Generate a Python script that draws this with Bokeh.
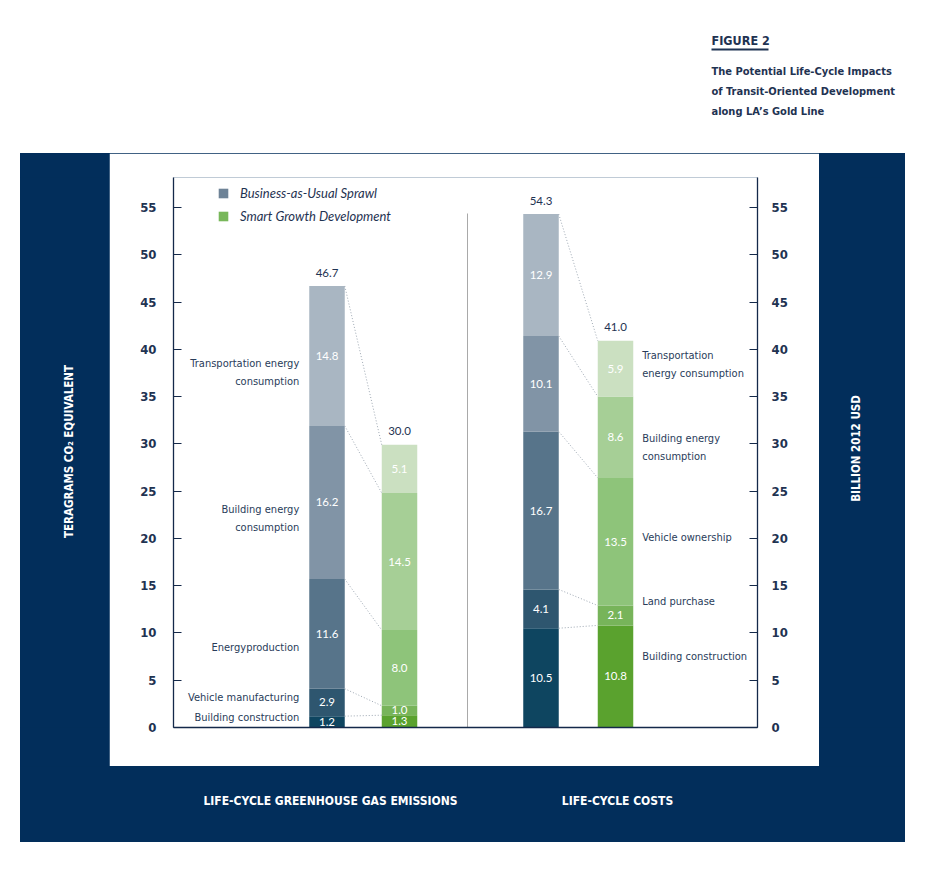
import numpy as np
from bokeh.plotting import figure
from bokeh.layouts import column, row
from bokeh.models import (Range1d, LinearAxis, FixedTicker, Legend, LegendItem,
                          ColumnDataSource, Spacer)
from bokeh.core.properties import value
from bokeh.embed import file_html
from bokeh.resources import INLINE

# ---------------- data ----------------
ghg_categories = ["Building construction", "Vehicle manufacturing", "Energyproduction",
                  "Building energy\nconsumption", "Transportation energy\nconsumption"]
cost_categories = ["Building construction", "Land purchase", "Vehicle ownership",
                   "Building energy\nconsumption", "Transportation\nenergy consumption"]
ghg_bau = [1.2, 2.9, 11.6, 16.2, 14.8]
ghg_smart = [1.3, 1.0, 8.0, 14.5, 5.1]
cost_bau = [10.5, 4.1, 16.7, 10.1, 12.9]
cost_smart = [10.8, 2.1, 13.5, 8.6, 5.9]
ghg_totals = [46.7, 30.0]
cost_totals = [54.3, 41.0]
series_names = ["Business-as-Usual Sprawl", "Smart Growth Development"]
panel_titles = ["LIFE-CYCLE GREENHOUSE GAS EMISSIONS", "LIFE-CYCLE COSTS"]
y_ticks = [0, 5, 10, 15, 20, 25, 30, 35, 40, 45, 50, 55]
left_axis_title = "TERAGRAMS CO\u2082 EQUIVALENT"
right_axis_title = "BILLION 2012 USD"
fig_label = "FIGURE 2"
fig_title = ["The Potential Life-Cycle Impacts", "of Transit-Oriented Development",
             "along LA\u2019s Gold Line"]

# ---------------- styles ----------------
NAVY = "#022e5b"
INK = "#1f3352"
BAU_COLORS = ["#0e4560", "#2e566f", "#57748a", "#8194a6", "#a9b6c2"]
SG_COLORS = ["#5aa22e", "#77b45a", "#8ec47a", "#a6cf96", "#cbe0c1"]
LEG_COLORS = ["#6e8397", "#78b75a"]
COND = "'Liberation Sans Narrow', 'DejaVu Sans Condensed', 'Roboto', sans-serif"
GEO = "Lato, 'Open Sans', sans-serif"

# ---------------- layout (page pixels) ----------------
BOX_L, BOX_R, BOX_B = 20, 905, 842          # navy box
PAN_L, PAN_R, PAN_T, PAN_B = 109, 819, 153, 766   # white chart panel
FL, FR, FT, FB = 173, 757, 177, 727          # plot frame
XS = 36.5
YS = 520 / 55


def X(px):
    return (px - FL) / XS


def Y(py):
    return (FB - py) / YS


y_range = Range1d(0, (FB - FT) / YS)


def strip(w, h, bg, yr=None, top=0, bottom=0):
    f = figure(width=w, height=h, output_backend="svg", toolbar_location=None,
               x_range=Range1d(0, w), y_range=yr if yr is not None else Range1d(0, h),
               x_axis_location=None, y_axis_location=None, min_border=0,
               min_border_top=top, min_border_bottom=bottom)
    f.grid.grid_line_color = None
    f.outline_line_color = None
    f.background_fill_color = bg
    f.border_fill_color = bg
    return f


# ---------------- heading ----------------
head = strip(BOX_R, PAN_T, "white")
head.text(x=[711], y=[PAN_T - 40], text=[fig_label], text_color=INK,
          text_font=value(COND), text_font_style="bold", text_font_size="12.5px",
          text_baseline="middle")
head.segment(x0=[711], y0=[PAN_T - 49], x1=[768], y1=[PAN_T - 49], line_color=INK, line_width=2)
head.text(x=[711] * 3, y=[PAN_T - 71, PAN_T - 91, PAN_T - 111], text=fig_title,
          text_color=INK, text_font=value(COND), text_font_style="bold",
          text_font_size="11px", text_baseline="middle")

# ---------------- navy side strips ----------------
strip_h = PAN_B - PAN_T
left = strip(PAN_L - BOX_L, strip_h, NAVY, y_range, FT - PAN_T, PAN_B - FB)
left.text(x=[68 - BOX_L], y=[Y(451)], text=[left_axis_title], angle=np.pi / 2,
          text_color="white", text_font=value(COND), text_font_style="bold",
          text_font_size="11.5px", text_align="center", text_baseline="middle")
right = strip(BOX_R - PAN_R, strip_h, NAVY, y_range, FT - PAN_T, PAN_B - FB)
right.text(x=[855 - PAN_R], y=[Y(448)], text=[right_axis_title], angle=np.pi / 2,
           text_color="white", text_font=value(COND), text_font_style="bold",
           text_font_size="11.5px", text_align="center", text_baseline="middle")
bottom_h = BOX_B - PAN_B
bottom = strip(BOX_R - BOX_L, bottom_h, NAVY)
bottom.text(x=[330 - BOX_L, 617 - BOX_L], y=[BOX_B - 800] * 2, text=panel_titles,
            text_color="white", text_font=value(COND), text_font_style="bold",
            text_font_size="12px", text_align="center", text_baseline="middle")

# ---------------- main chart ----------------
p = figure(width=PAN_R - PAN_L, height=PAN_B - PAN_T, output_backend="svg",
           toolbar_location=None,
           x_range=Range1d(0, (FR - FL) / XS), y_range=y_range,
           x_axis_location=None, y_axis_location=None,
           min_border_left=FL - PAN_L, min_border_right=PAN_R - FR,
           min_border_top=FT - PAN_T, min_border_bottom=PAN_B - FB)
p.grid.grid_line_color = None
p.outline_line_color = None
p.background_fill_color = "white"
p.border_fill_color = "white"


def make_axis(standoff):
    return LinearAxis(ticker=FixedTicker(ticks=y_ticks),
                      major_tick_in=8, major_tick_out=0, minor_tick_in=0, minor_tick_out=0,
                      axis_line_color="#14294a", axis_line_width=1.3,
                      major_tick_line_color="#14294a", major_tick_line_width=1.2,
                      major_label_standoff=standoff,
                      major_label_text_font=COND, major_label_text_font_style="bold",
                      major_label_text_font_size="13px", major_label_text_color=INK)


p.add_layout(make_axis(17), "left")
p.add_layout(make_axis(14), "right")
p.add_layout(LinearAxis(ticker=FixedTicker(ticks=[]), major_tick_in=0, major_tick_out=0,
                        minor_tick_in=0, minor_tick_out=0, axis_line_color="#14294a",
                        axis_line_width=1.3, major_label_text_font_size="0px"), "below")

bar_x = [X(326.5), X(399), X(540.5), X(615)]
bar_w = 35.5 / XS
divider_x = X(467)
ghg_label_y = [Y(717), Y(697), Y(647), Y(518), Y(372)]
cost_label_y = [Y(656), Y(601), Y(537), Y(447), Y(364)]

# divider between the two panels
p.segment(x0=[divider_x], y0=[0], x1=[divider_x], y1=[Y(213)], line_color="#a9a9a9", line_width=1)


def stack(vals):
    vals = np.array(vals, dtype=float)
    tops = np.cumsum(vals)
    return tops - vals, tops


series = [(ghg_bau, BAU_COLORS), (ghg_smart, SG_COLORS), (cost_bau, BAU_COLORS), (cost_smart, SG_COLORS)]
for xc, (vals, cols) in zip(bar_x, series):
    b, t = stack(vals)
    src = ColumnDataSource(dict(x=[xc] * len(vals), bottom=b, top=t, color=cols,
                                mid=(b + t) / 2, txt=[f"{v:.1f}" for v in vals]))
    p.vbar(x="x", bottom="bottom", top="top", width=bar_w,
           fill_color="color", line_color=None, source=src)
    p.text(x="x", y="mid", text="txt", source=src, text_color="white",
           text_font=value(GEO), text_font_size="11.5px", text_align="center",
           text_baseline="middle")

# dotted connectors between matching layers
for (bau, sg, xb, xs_) in [(ghg_bau, ghg_smart, bar_x[0], bar_x[1]),
                          (cost_bau, cost_smart, bar_x[2], bar_x[3])]:
    _, tb = stack(bau)
    _, ts = stack(sg)
    p.segment(x0=[xb + bar_w / 2] * len(tb), y0=tb, x1=[xs_ - bar_w / 2] * len(ts), y1=ts,
              line_color="#9ea8b3", line_width=1, line_dash="1 2")

# totals
tot_src = ColumnDataSource(dict(x=bar_x, y=ghg_totals + cost_totals,
                                txt=[f"{v:.1f}" for v in ghg_totals + cost_totals]))
p.text(x="x", y="y", text="txt", source=tot_src, text_color=INK, y_offset=-13,
       text_font=value(GEO), text_font_size="11.5px", text_align="center",
       text_baseline="middle")

# category labels
p.text(x=[bar_x[0] - bar_w / 2] * 5, y=ghg_label_y, text=ghg_categories, x_offset=-10,
       text_color="#293c5a", text_font=value(COND), text_font_size="11px",
       text_align="right", text_baseline="middle", text_line_height=1.45)
p.text(x=[bar_x[3] + bar_w / 2] * 5, y=cost_label_y, text=cost_categories, x_offset=9,
       text_color="#293c5a", text_font=value(COND), text_font_size="11px",
       text_align="left", text_baseline="middle", text_line_height=1.45)

# legend swatches (zero-height proxies on the baseline)
r_bau = p.vbar(x=[bar_x[0]], bottom=[0], top=[0], width=bar_w, fill_color=LEG_COLORS[0], line_color=None)
r_sg = p.vbar(x=[bar_x[1]], bottom=[0], top=[0], width=bar_w, fill_color=LEG_COLORS[1], line_color=None)
legend = Legend(items=[LegendItem(label=series_names[0], renderers=[r_bau]),
                       LegendItem(label=series_names[1], renderers=[r_sg])],
                location=(44, 501), padding=0, margin=0, spacing=3, label_height=20,
                glyph_width=12, glyph_height=12, label_standoff=11,
                border_line_alpha=0, background_fill_alpha=0,
                label_text_font=GEO, label_text_font_style="italic",
                label_text_font_size="13px", label_text_color=INK)
p.add_layout(legend)

navy_box = column(row(left, p, right), bottom, styles={"background-color": NAVY})
layout = column(head, row(Spacer(width=BOX_L, height=BOX_B - PAN_T), navy_box))

open("out.html", "w").write(file_html(layout, INLINE))
